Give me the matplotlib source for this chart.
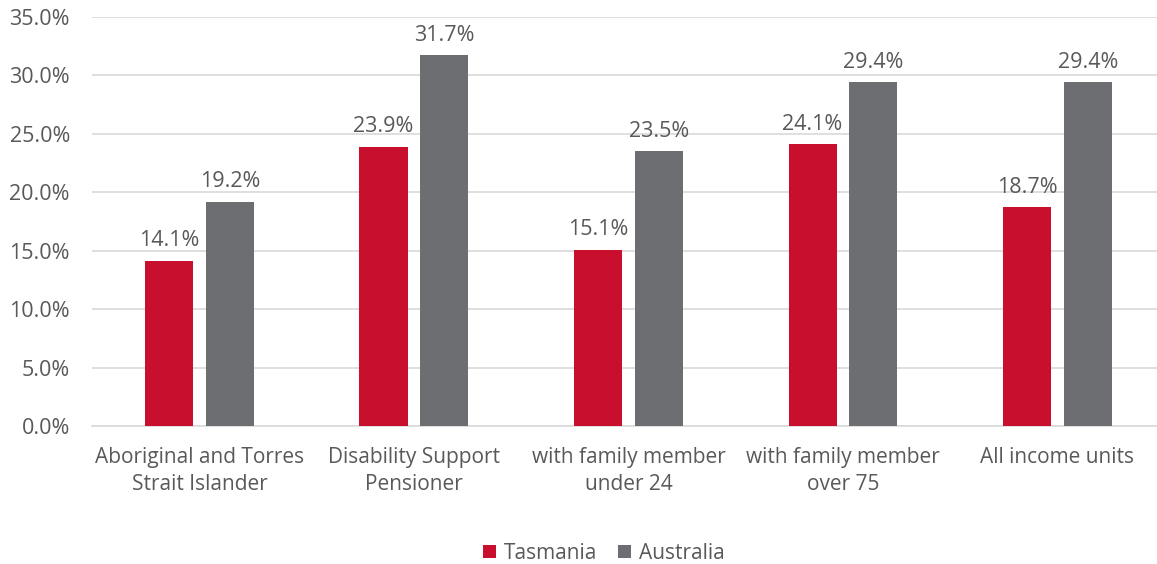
import matplotlib.pyplot as plt
import numpy as np

plt.rcParams['font.family'] = ['Open Sans', 'DejaVu Sans']

categories = ["Aboriginal and Torres\nStrait Islander", "Disability Support\nPensioner",
              "with family member\nunder 24", "with family member\nover 75", "All income units"]
tasmania = [14.1, 23.9, 15.1, 24.1, 18.7]
australia = [19.2, 31.7, 23.5, 29.4, 29.4]

red = "#C8102E"
grey = "#6D6E71"
txt = "#595959"

fig = plt.figure(figsize=(11.57, 5.64), dpi=100)
ax = fig.add_axes([0.0797, 0.2447, 0.927, 0.7253])

x = np.arange(len(categories))
w = 0.224
off = 0.142
b1 = ax.bar(x - off, tasmania, w, color=red, label="Tasmania", zorder=3)
b2 = ax.bar(x + off, australia, w, color=grey, label="Australia", zorder=3)

for bars in (b1, b2):
    for r in bars:
        ax.annotate(f"{r.get_height():.1f}%", (r.get_x() + r.get_width() / 2, r.get_height()),
                    xytext=(0, 7), textcoords="offset points", ha="center", va="bottom",
                    fontsize=15.5, color=txt)

ax.set_xlim(-0.5, len(categories) - 0.5)
ax.set_ylim(0, 35)
ax.set_yticks(np.arange(0, 35.1, 5))
ax.set_yticklabels([f"{v:.1f}%" for v in np.arange(0, 35.1, 5)], fontsize=15.5)
ax.set_xticks(x)
ax.set_xticklabels(categories, fontsize=15, linespacing=1.4)
ax.tick_params(axis="both", length=0, colors=txt)
ax.tick_params(axis="y", pad=16)
ax.tick_params(axis="x", pad=15)
ax.grid(axis="y", color="#D9D9D9", linewidth=1.2, zorder=0)
for s in ["top", "right", "left"]:
    ax.spines[s].set_visible(False)
ax.spines["bottom"].set_color("#D9D9D9")
ax.spines["bottom"].set_linewidth(1.2)

fig.legend(handles=[b1, b2], loc="lower center", bbox_to_anchor=(0.522, -0.033), ncol=2,
           frameon=False, fontsize=15, labelcolor=txt, handlelength=0.6, handleheight=0.6,
           handletextpad=0.4, columnspacing=1.0)

fig.savefig("out.png", dpi=100)
